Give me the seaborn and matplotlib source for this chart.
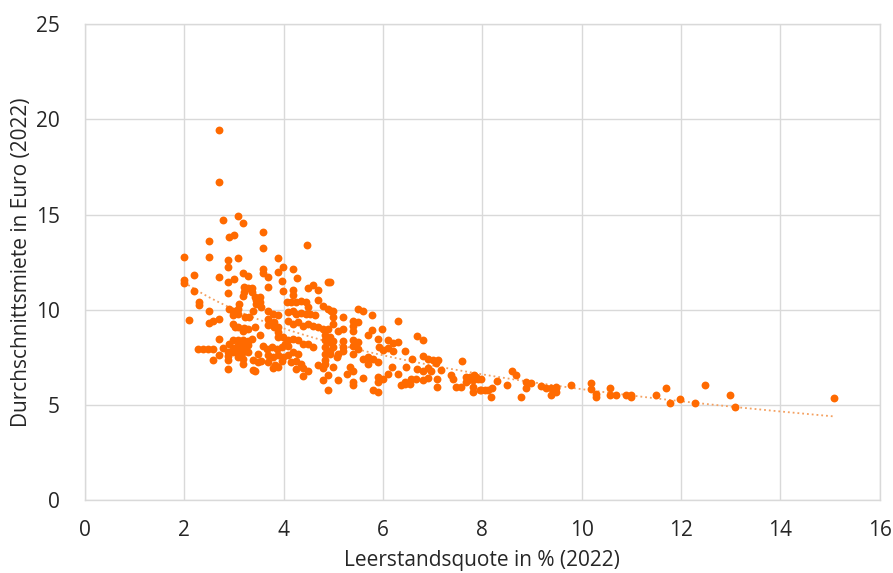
import numpy as np
import pandas as pd
import matplotlib
matplotlib.use("Agg")
import matplotlib.pyplot as plt
import seaborn as sns

quote_a = [2.70, 2.70, 3.08, 3.19, 2.78, 3.00, 2.90, 2.49, 2.00, 2.49, 2.89, 3.09, 2.89,
           3.19, 3.29, 2.19, 2.70, 3.00, 2.00, 2.00, 2.89, 3.20, 3.29, 3.37, 3.37, 3.20,
           2.19, 2.89, 3.19, 3.45, 3.45, 2.29, 2.29, 3.10, 2.90, 2.98, 3.08, 3.08, 2.49,
           3.39, 2.09, 2.98, 3.22, 3.30, 2.49, 2.58, 2.70, 2.98, 3.02, 3.08, 3.20, 3.29,
           3.19, 2.70, 2.98, 3.08, 3.19, 3.29, 3.37, 2.90, 3.08, 3.19, 3.29, 2.28, 2.38,
           2.48, 2.58, 2.78, 2.98, 3.08, 3.19, 2.89, 2.98, 3.08, 3.19, 3.29, 2.70, 2.58,
           2.88, 2.88, 3.08, 3.19, 3.19, 3.39, 3.49, 2.88, 3.39]
miete_a = [19.44, 16.72, 14.94, 14.55, 14.71, 13.90, 13.80, 13.63, 12.75, 12.79, 12.63,
           12.72, 12.26, 11.93, 11.78, 11.81, 11.74, 11.64, 11.57, 11.39, 11.46, 11.20,
           11.15, 11.15, 10.95, 10.95, 10.97, 10.90, 10.73, 10.52, 10.31, 10.39, 10.26,
           10.31, 10.03, 9.96, 10.03, 9.79, 9.96, 9.96, 9.47, 9.70, 9.64, 9.64, 9.33, 9.43,
           9.50, 9.26, 9.08, 9.12, 9.05, 9.00, 8.88, 8.47, 8.40, 8.40, 8.40, 8.38, 8.45,
           8.20, 8.15, 8.20, 8.15, 7.93, 7.93, 7.93, 7.93, 7.97, 8.00, 7.90, 8.00, 7.77,
           7.80, 7.72, 7.80, 7.80, 7.65, 7.34, 7.55, 7.37, 7.51, 7.43, 7.13, 7.37, 7.25,
           6.90, 6.85]

quote_b = [3.59, 3.59, 4.48, 3.89, 3.99, 3.89, 4.19, 4.28, 3.59, 3.59, 3.69, 3.69, 3.96,
           3.99, 4.59, 4.69, 4.90, 4.19, 4.19, 4.49, 3.42, 3.52, 3.52, 4.06, 4.16, 4.26,
           4.36, 4.46, 4.49, 4.69, 4.80, 4.90, 4.96, 3.55, 3.69, 3.79, 3.89, 4.09, 4.19,
           4.26, 4.36, 4.46, 4.53, 4.63, 3.69, 3.69, 3.80, 3.80, 4.09, 4.19, 4.29, 4.39,
           4.49, 4.59, 4.69, 4.79, 4.90, 3.89, 3.89, 3.89, 3.42, 3.52, 3.99, 4.09, 4.19,
           4.29, 4.39, 4.49, 4.59, 4.83, 4.83, 4.83, 4.83, 4.83, 4.83, 4.93, 4.93, 3.59,
           3.66, 3.76, 3.86, 3.96, 4.02, 4.09, 3.49, 3.69, 3.79, 3.89, 3.99, 4.09, 4.19,
           4.29, 3.55, 3.69, 3.82, 3.96, 4.16, 4.26, 4.36, 3.79, 3.89, 4.26, 4.39, 4.49,
           4.69, 4.79, 4.89, 4.79, 4.39, 4.90, 3.42, 4.93]
miete_b = [14.10, 13.24, 13.40, 12.72, 12.23, 11.97, 12.14, 11.65, 12.14, 11.91, 11.70,
           11.22, 11.53, 11.00, 11.32, 11.04, 11.44, 11.04, 10.80, 11.15, 10.66, 10.66,
           10.39, 10.40, 10.40, 10.40, 10.45, 10.40, 10.15, 10.52, 10.22, 10.05, 9.96,
           10.13, 9.96, 9.79, 9.70, 9.90, 9.95, 9.80, 9.85, 9.80, 9.80, 9.70, 9.50, 9.20,
           9.10, 9.35, 9.43, 9.26, 9.35, 9.17, 9.26, 9.17, 9.08, 9.00, 9.00, 9.08, 8.82,
           8.56, 9.08, 8.70, 8.56, 8.40, 8.47, 8.40, 8.20, 8.20, 8.04, 8.65, 8.39, 8.04,
           7.69, 7.34, 7.17, 8.30, 7.86, 8.10, 7.95, 8.04, 7.95, 8.04, 8.20, 8.10, 7.69,
           7.60, 7.50, 7.60, 7.50, 7.65, 7.77, 7.70, 7.30, 7.25, 7.10, 7.30, 7.25, 7.30,
           7.13, 6.95, 7.00, 6.90, 6.95, 6.76, 7.10, 6.95, 6.60, 6.30, 6.50, 5.77, 6.80,
           11.44]

quote_c = [5.00, 5.00, 5.00, 5.20, 5.50, 5.60, 5.79, 5.40, 5.50, 5.40, 5.40, 5.20, 5.10,
           5.79, 5.99, 6.30, 5.70, 5.90, 6.10, 6.20, 6.30, 4.93, 5.00, 5.00, 5.20, 5.20,
           5.20, 5.40, 5.40, 5.50, 5.50, 5.40, 5.92, 6.00, 6.10, 6.20, 4.93, 5.07, 5.10,
           5.60, 5.70, 5.80, 5.70, 5.90, 6.47, 5.00, 5.33, 5.40, 5.27, 5.10, 5.40, 5.40,
           5.60, 6.19, 6.30, 6.10, 5.90, 6.00, 5.90, 6.37, 6.44, 6.54, 5.80, 5.90]
miete_c = [9.96, 9.61, 9.26, 9.64, 10.05, 9.92, 9.70, 9.43, 9.35, 9.17, 8.91, 9.00, 8.91,
           8.95, 9.00, 9.43, 8.65, 8.47, 8.40, 8.25, 8.30, 8.56, 8.38, 8.04, 8.38, 8.04,
           7.86, 8.40, 8.10, 8.30, 7.95, 7.70, 8.04, 7.90, 8.00, 7.82, 7.70, 7.50, 7.70,
           7.43, 7.51, 7.43, 7.17, 7.25, 7.02, 7.00, 7.00, 6.80, 6.64, 6.30, 6.20, 6.04,
           6.40, 7.02, 6.64, 6.64, 6.46, 6.38, 6.20, 6.03, 6.08, 6.12, 5.77, 5.68]

quote_d = [6.69, 6.81, 6.44, 6.59, 6.81, 6.91, 7.00, 7.11, 7.06, 7.18, 7.59, 6.69, 6.81,
           6.91, 6.97, 6.44, 6.57, 6.67, 6.81, 6.91, 7.09, 7.09, 7.38, 7.41, 7.48, 7.58,
           7.68, 7.72, 7.75, 7.81, 7.84, 7.88, 7.92, 7.68, 7.81, 7.81, 7.98]
miete_d = [8.60, 8.39, 7.86, 7.43, 7.55, 7.43, 7.37, 7.37, 7.20, 6.85, 7.30, 6.90, 6.81,
           6.95, 6.81, 6.20, 6.38, 6.38, 6.33, 6.43, 6.38, 5.94, 6.55, 6.38, 5.94, 5.94,
           6.45, 6.30, 6.45, 6.30, 6.55, 6.45, 6.38, 6.20, 5.94, 5.68, 5.77]

quote_e = [8.59, 8.69, 7.98, 7.95, 8.05, 8.11, 8.20, 8.30, 8.18, 8.50, 8.89, 8.99, 8.89,
           8.79, 9.19, 9.29, 9.39, 9.49, 9.49, 9.39, 9.49, 9.79, 10.19, 10.19, 10.29, 10.29,
           10.58, 10.58, 10.70, 10.90, 11.00, 11.00, 11.49, 11.69, 11.78, 11.99, 12.28,
           12.48, 12.98, 13.09, 15.08]
miete_e = [6.76, 6.60, 6.38, 5.80, 5.77, 5.80, 5.91, 6.25, 5.41, 6.03, 6.20, 6.15, 5.91,
           5.41, 6.00, 5.90, 5.90, 5.90, 5.68, 5.50, 5.97, 6.06, 6.15, 5.85, 5.59, 5.41,
           5.89, 5.50, 5.50, 5.50, 5.50, 5.41, 5.50, 5.91, 5.12, 5.29, 5.12, 6.06, 5.50,
           4.89, 5.36]

x_ticks = [0, 2, 4, 6, 8, 10, 12, 14, 16]
y_ticks = [0, 5, 10, 15, 20, 25]

df = pd.DataFrame({
    "quote": quote_a + quote_b + quote_c + quote_d + quote_e,
    "miete": miete_a + miete_b + miete_c + miete_d + miete_e,
})

orange = "#FF6A00"
grid_col = "#D9D9D9"
text_col = "#262626"

sns.set_style("white")
plt.rcParams["font.family"] = ["Open Sans", "DejaVu Sans"]

fig = plt.figure(figsize=(8.93, 5.73), dpi=100)
ax = fig.add_axes([0.095, 0.127, 0.890, 0.831])

sns.scatterplot(data=df, x="quote", y="miete", ax=ax, color=orange,
                s=32, linewidth=0, zorder=3)

# logarithmische Trendlinie (wie in Excel)
b, a = np.polyfit(np.log(df["quote"]), df["miete"], 1)
x_fit = np.linspace(df["quote"].min(), df["quote"].max(), 200)
ax.plot(x_fit, a + b * np.log(x_fit), linestyle=":", color="#F4A060",
        linewidth=1.3, zorder=2)

ax.set_xlim(0, 16)
ax.set_ylim(0, 25)
ax.set_xticks(x_ticks)
ax.set_yticks(y_ticks)
ax.grid(True, color=grid_col, linewidth=1)
ax.set_axisbelow(True)
for side in ax.spines.values():
    side.set_color(grid_col)
    side.set_linewidth(1)
ax.tick_params(axis="x", length=0, labelsize=15, colors=text_col, pad=14)
ax.tick_params(axis="y", length=0, labelsize=15, colors=text_col, pad=18)

ax.set_xlabel("Leerstandsquote in % (2022)", fontsize=15, color=text_col, labelpad=7)
ax.set_ylabel("Durchschnittsmiete in Euro (2022)", fontsize=15, color=text_col, labelpad=3)

fig.savefig("out.png", dpi=100, facecolor="white")
